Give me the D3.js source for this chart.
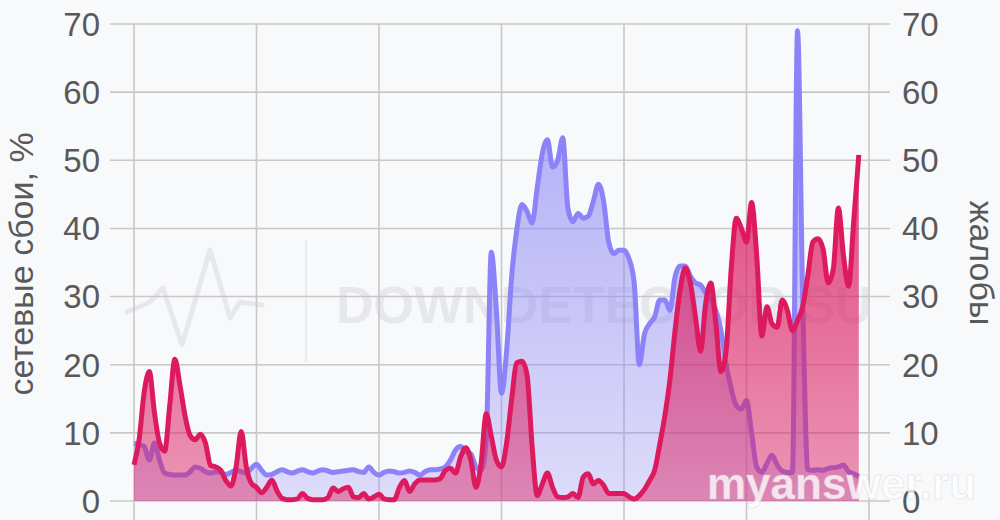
<!DOCTYPE html>
<html>
<head>
<meta charset="utf-8">
<script src="https://cdn.jsdelivr.net/npm/d3@7"></script>
<style>
  body { margin: 0; background: #f8f9fb; }
  text { font-family: "Liberation Sans", Arial, sans-serif; }
</style>
</head>
<body>
<svg id="chart" width="1000" height="520"></svg>
<script>
// hours since start, one reading every half hour
var hours = d3.range(0, 71.5, 0.5);

// network failures, % (purple)
var failures = [
  8.5, 8.3, 8.0, 6.0, 8.5, 6.0, 4.1, 3.9, 3.8, 3.8,
  3.8, 4.3, 5.0, 4.8, 4.3, 4.1, 4.3, 4.2, 3.9, 4.2,
  4.5, 4.3, 4.1, 4.8, 5.4, 4.5, 3.8, 3.9, 4.3, 4.6,
  4.3, 4.1, 4.4, 4.6, 4.3, 4.1, 4.4, 4.6, 4.4, 4.2,
  4.3, 4.4, 4.5, 4.6, 4.3, 4.2, 5.0, 4.2, 3.8, 4.2,
  4.4, 4.3, 4.1, 4.2, 4.4, 4.2, 3.8, 4.3, 4.6, 4.6,
  4.7, 5.0, 6.0, 7.5, 8.0, 7.3, 6.9, 5.0, 4.5, 9.0,
  36.5, 28, 15.8, 22, 33, 39.8, 43.5, 42.5, 40.8, 46,
  51, 53, 49, 50, 53.3, 43, 41, 42.2, 41.5, 41.8,
  44, 46.5, 44, 38, 36.3, 36.8, 36.8, 35.5, 32, 20,
  24.5, 26, 27, 29.5, 29.5, 28, 32.9, 34.5, 34.5, 33,
  32, 31.7, 30.5, 29.5, 28, 25, 20, 16.5, 14, 13.5,
  14.8, 10, 5.0, 4.2, 5.5, 6.7, 5.3, 4.4, 4.2, 4.2,
  69, 30, 4.6, 4.5, 4.6, 4.5, 4.8, 4.9, 5.0, 5.3,
  4.3, 4.0, 3.6
];

// user complaints (crimson)
var complaints = [
  5.3, 9, 16, 19, 13, 8.5, 7.3, 14, 20.8, 17,
  12.5, 9.6, 9.0, 9.8, 8.5, 5.2, 5.0, 4.5, 3.0, 2.2,
  5, 10.2, 5, 2.6, 2.0, 1.2, 2.0, 3.1, 1.5, 0.4,
  0.2, 0.2, 0.3, 1.1, 0.4, 0.2, 0.2, 0.2, 0.5, 1.9,
  1.4, 1.8, 2.0, 0.6, 0.5, 1.1, 0.3, 0.6, 1.0, 0.3,
  0.2, 0.2, 2.0, 3.0, 1.4, 2.5, 3.1, 3.1, 3.1, 3.1,
  3.3, 4.5, 4.8, 4.1, 6.5, 7.8, 6.0, 2.0, 5.5, 12.8,
  9.5, 6.0, 5.0, 8.5, 15, 20.3, 20.5, 18.5, 8, 0.8,
  2.5, 4.1, 2.0, 0.6, 0.5, 0.6, 1.1, 0.5, 3.5, 4.0,
  2.5, 3.0, 2.3, 1.1, 1.1, 1.1, 1.1, 0.6, 0.3, 0.8,
  1.7, 3.0, 4.5, 8.3, 12.5, 17.8, 25, 31, 34.2, 32,
  27, 22, 29, 32, 26, 19, 22, 34, 41.5, 40,
  38, 43.8, 36, 24.2, 28.5, 26, 25.5, 29.5, 28, 25,
  26.5, 28.5, 33, 38, 38.5, 37, 32, 34, 43, 36,
  31.5, 41, 50.8
];

var xTicks = [0, 12, 24, 36, 48, 60, 72];
var yTicks = [0, 10, 20, 30, 40, 50, 60, 70];
var leftTitle = "сетевые сбои, %";
var rightTitle = "жалобы";

var svg = d3.select("#chart");

var x = d3.scaleLinear().domain([0, 72]).range([134, 869]);
var y = d3.scaleLinear().domain([0, 70]).range([501, 24]);

var defs = svg.append("defs");
function grad(id, color, top, bottom) {
  var g = defs.append("linearGradient").attr("id", id)
      .attr("gradientUnits", "userSpaceOnUse")
      .attr("x1", 0).attr("x2", 0).attr("y1", y(70)).attr("y2", y(0));
  g.append("stop").attr("offset", 0).attr("stop-color", color).attr("stop-opacity", top);
  g.append("stop").attr("offset", 1).attr("stop-color", color).attr("stop-opacity", bottom);
}
grad("gradFail", "#8d85f4", 0.72, 0.25);
grad("gradComp", "#dc1f62", 0.95, 0.45);

// faint downdetector watermark
var wm = svg.append("g").attr("class", "watermark");
wm.append("polyline")
  .attr("points", "127,312 150,302 163,288 182,345 210,250 230,318 240,302 262,305")
  .attr("fill", "none").attr("stroke", "#e6e8ec").attr("stroke-width", 5)
  .attr("stroke-linejoin", "round").attr("stroke-linecap", "round");
wm.append("line").attr("x1", 306).attr("x2", 306).attr("y1", 240).attr("y2", 362)
  .attr("stroke", "#e8eaee").attr("stroke-width", 2);
wm.append("text").attr("x", 336).attr("y", 323)
  .attr("font-size", 52).attr("font-weight", "bold").attr("fill", "#e6e8ec")
  .text("DOWNDETECTOR.SU");

// grid
svg.append("g").selectAll("line").data(yTicks).join("line")
  .attr("x1", 110).attr("x2", 890)
  .attr("y1", function(d) { return y(d); }).attr("y2", function(d) { return y(d); })
  .attr("stroke", "#c8c8c8").attr("stroke-width", 1.6);
svg.append("g").selectAll("line").data(xTicks).join("line")
  .attr("x1", function(d) { return x(d); }).attr("x2", function(d) { return x(d); })
  .attr("y1", y(70)).attr("y2", 520)
  .attr("stroke", "#c8c8c8").attr("stroke-width", 1.6);

// tick labels
svg.append("g").selectAll("text").data(yTicks).join("text")
  .attr("x", 100).attr("y", function(d) { return y(d); }).attr("dy", "0.36em")
  .attr("text-anchor", "end").attr("font-size", 33).attr("fill", "#595959")
  .text(function(d) { return d; });
svg.append("g").selectAll("text").data(yTicks).join("text")
  .attr("x", 902).attr("y", function(d) { return y(d); }).attr("dy", "0.36em")
  .attr("text-anchor", "start").attr("font-size", 33).attr("fill", "#595959")
  .text(function(d) { return d; });

svg.append("text")
  .attr("transform", "translate(33,264) rotate(-90)")
  .attr("text-anchor", "middle").attr("font-size", 34).attr("fill", "#595959")
  .text(leftTitle);
svg.append("text")
  .attr("transform", "translate(970,263) rotate(90)")
  .attr("text-anchor", "middle").attr("font-size", 34).attr("fill", "#595959")
  .text(rightTitle);

var curve = d3.curveMonotoneX;
var area = function(vals) {
  return d3.area().curve(curve)
    .x(function(d, i) { return x(hours[i]); })
    .y0(y(0)).y1(function(d) { return y(d); })(vals);
};
var line = function(vals) {
  return d3.line().curve(curve)
    .x(function(d, i) { return x(hours[i]); })
    .y(function(d) { return y(d); })(vals);
};

svg.append("path").attr("d", area(failures)).attr("fill", "url(#gradFail)");
svg.append("path").attr("d", line(failures)).attr("fill", "none")
  .attr("stroke", "#8b83f7").attr("stroke-width", 5).attr("stroke-linejoin", "round");
svg.append("path").attr("d", area(complaints)).attr("fill", "url(#gradComp)");
svg.append("path").attr("d", line(complaints)).attr("fill", "none")
  .attr("stroke", "#de1a5e").attr("stroke-width", 5).attr("stroke-linejoin", "round");

// site watermark
svg.append("text").attr("x", 707).attr("y", 499)
  .attr("font-size", 44).attr("font-weight", "bold")
  .attr("fill", "#ffffff").attr("fill-opacity", 0.8)
  .attr("stroke", "#c9c9c9").attr("stroke-opacity", 0.35).attr("stroke-width", 1)
  .text("myanswer.ru");
</script>
</body>
</html>
